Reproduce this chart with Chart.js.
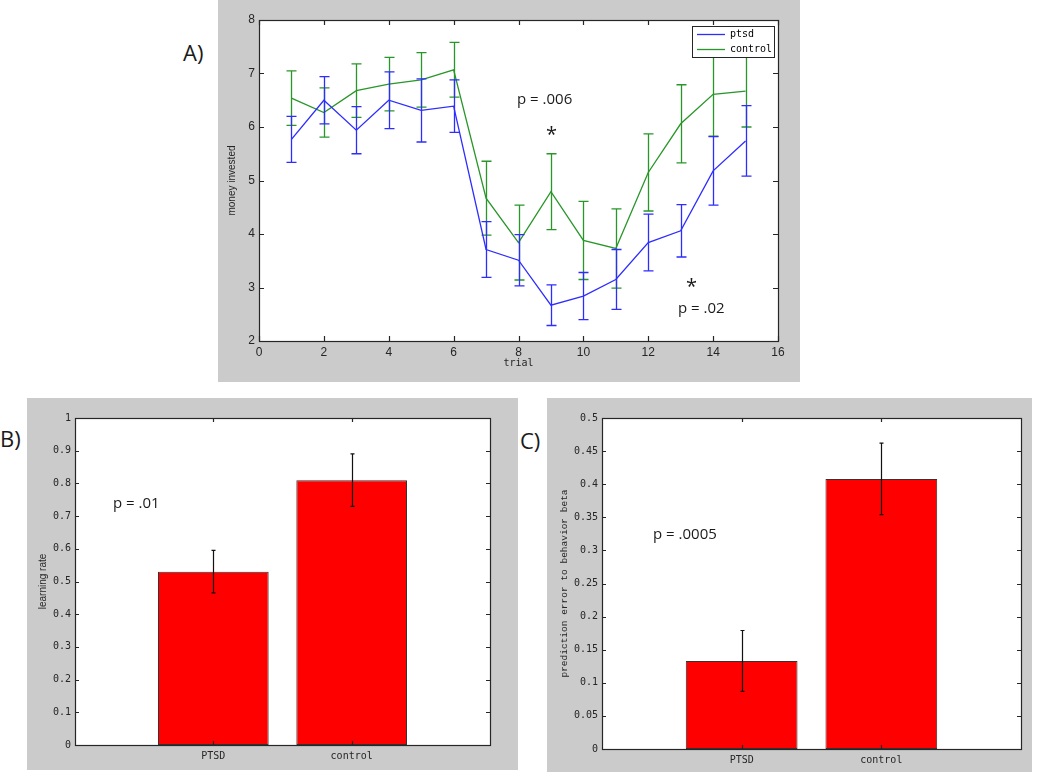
<!DOCTYPE html>
<html>
<head>
<meta charset="utf-8">
<title>Trust game: PTSD vs control</title>
<script src="https://cdn.jsdelivr.net/npm/chart.js@4.4.0/dist/chart.umd.min.js"></script>
<style>
  body { margin: 0; background: #fff; }
  #page { position: relative; width: 1050px; height: 782px; overflow: hidden; font-family: "Open Sans", sans-serif; }
  .panel { position: absolute; background: #cbcbcb; }
  .note { position: absolute; color: #1a1a1a; white-space: nowrap; line-height: 1; font-size: 15px; }
  .tag { font-size: 22px; }
  .star { font-size: 20px; }
</style>
</head>
<body>
<div id="page">
  <div class="panel" style="left:218px;top:0;width:582px;height:382px"><canvas id="trialChart"></canvas></div>
  <div class="panel" style="left:27px;top:398px;width:491px;height:372px"><canvas id="rateChart"></canvas></div>
  <div class="panel" style="left:547px;top:398px;width:485px;height:374px"><canvas id="betaChart"></canvas></div>

  <div class="note tag" style="left:183px;top:41px">A)</div>
  <div class="note tag" style="left:0;top:427px">B)</div>
  <div class="note tag" style="left:520px;top:429px">C)</div>

  <div class="note" style="left:517px;top:91px">p = .006</div>
  <div class="note star" style="left:546px;top:124px">*</div>
  <div class="note star" style="left:686px;top:276px">*</div>
  <div class="note" style="left:678px;top:300px">p = .02</div>
  <div class="note" style="left:113px;top:495px">p = .01</div>
  <div class="note" style="left:653px;top:526px">p = .0005</div>
</div>

<script>
// Panel A - money invested per trial
const trials = [1, 2, 3, 4, 5, 6, 7, 8, 9, 10, 11, 12, 13, 14, 15];
const ptsdMean = [5.77, 6.50, 5.94, 6.50, 6.31, 6.39, 3.71, 3.51, 2.67, 2.84, 3.15, 3.84, 4.06, 5.18, 5.74];
const ptsdErr = [0.43, 0.44, 0.44, 0.53, 0.59, 0.49, 0.52, 0.48, 0.38, 0.44, 0.56, 0.53, 0.49, 0.64, 0.66];
const controlMean = [6.54, 6.27, 6.68, 6.80, 6.88, 7.07, 4.67, 3.84, 4.79, 3.88, 3.73, 5.15, 6.06, 6.61, 6.67];
const controlErr = [0.51, 0.46, 0.50, 0.50, 0.51, 0.51, 0.69, 0.70, 0.71, 0.73, 0.74, 0.72, 0.73, 0.78, 0.67];
const trialTicks = [0, 2, 4, 6, 8, 10, 12, 14, 16];
const moneyTicks = [2, 3, 4, 5, 6, 7, 8];

// Panels B and C - group bars
const groups = ['PTSD', 'control'];
const groupPos = [1, 2];
const learningRate = [0.53, 0.81];
const learningRateErr = [0.065, 0.08];
const peBeta = [0.133, 0.408];
const peBetaErr = [0.046, 0.054];
const rateTicks = [0, 0.1, 0.2, 0.3, 0.4, 0.5, 0.6, 0.7, 0.8, 0.9, 1];
const betaTicks = [0, 0.05, 0.1, 0.15, 0.2, 0.25, 0.3, 0.35, 0.4, 0.45, 0.5];

const BLUE = 'rgb(45,45,255)';
const GREEN = 'rgb(40,150,40)';
const INK = '#262626';

Chart.defaults.animation = false;
Chart.defaults.plugins.legend.display = false;
Chart.defaults.plugins.tooltip.enabled = false;
Chart.defaults.color = INK;

// MATLAB style axes: white plot area, box with inward ticks on all four sides
const matlabFrame = {
  id: 'matlabFrame',
  beforeDatasetsDraw(chart) {
    const { ctx, chartArea: a } = chart;
    ctx.save();
    ctx.fillStyle = '#fff';
    ctx.fillRect(a.left, a.top, a.width, a.height);
    ctx.restore();
  },
  afterDatasetsDraw(chart, args, opts) {
    const { ctx, chartArea: a, scales: { x, y } } = chart;
    const len = opts.tickLen || 5;
    ctx.save();
    ctx.strokeStyle = INK;
    ctx.lineWidth = 1.2;
    ctx.beginPath();
    x.ticks.forEach(t => {
      const px = Math.round(x.getPixelForValue(t.value)) + 0.5;
      ctx.moveTo(px, a.bottom); ctx.lineTo(px, a.bottom - len);
      ctx.moveTo(px, a.top); ctx.lineTo(px, a.top + len);
    });
    y.ticks.forEach(t => {
      const py = Math.round(y.getPixelForValue(t.value)) + 0.5;
      ctx.moveTo(a.left, py); ctx.lineTo(a.left + len, py);
      ctx.moveTo(a.right, py); ctx.lineTo(a.right - len, py);
    });
    ctx.stroke();
    ctx.strokeRect(Math.round(a.left) + 0.5, Math.round(a.top) + 0.5, Math.round(a.width), Math.round(a.height));
    ctx.restore();
  }
};

// vertical error bars, read from dataset.errors
const errorBars = {
  id: 'errorBars',
  afterDatasetDraw(chart, args) {
    const ds = chart.data.datasets[args.index];
    if (!ds.errors) return;
    const { ctx } = chart;
    const y = chart.scales.y;
    const cap = ds.capHalf || 4;
    ctx.save();
    ctx.strokeStyle = ds.errorColor || ds.borderColor;
    ctx.lineWidth = ds.errorWidth || 1.3;
    ctx.beginPath();
    args.meta.data.forEach((el, i) => {
      const v = args.meta.controller.getParsed(i).y;
      const e = ds.errors[i];
      const px = Math.round(el.x) + 0.5;
      const top = y.getPixelForValue(v + e);
      const bot = y.getPixelForValue(v - e);
      ctx.moveTo(px, top); ctx.lineTo(px, bot);
      ctx.moveTo(px - cap, top); ctx.lineTo(px + cap, top);
      ctx.moveTo(px - cap, bot); ctx.lineTo(px + cap, bot);
    });
    ctx.stroke();
    ctx.restore();
  }
};

// boxed legend inside the top right corner (panel A)
const cornerLegend = {
  id: 'cornerLegend',
  afterDraw(chart) {
    const { ctx, chartArea: a } = chart;
    const w = 82, h = 31;
    const bx = a.right - 4 - w, by = a.top + 6;
    ctx.save();
    ctx.fillStyle = '#fff';
    ctx.fillRect(bx, by, w, h);
    ctx.strokeStyle = INK;
    ctx.lineWidth = 1;
    ctx.strokeRect(bx + 0.5, by + 0.5, w, h);
    ctx.font = '10px "DejaVu Sans Mono"';
    ctx.textBaseline = 'middle';
    chart.data.datasets.forEach((ds, i) => {
      const ry = by + 8 + i * 15;
      ctx.strokeStyle = ds.borderColor;
      ctx.lineWidth = 1.3;
      ctx.beginPath();
      ctx.moveTo(bx + 5, ry + 0.5); ctx.lineTo(bx + 33, ry + 0.5);
      ctx.stroke();
      ctx.fillStyle = '#000';
      ctx.fillText(ds.label, bx + 38, ry);
    });
    ctx.restore();
  }
};

function fixedTicks(list) {
  return scale => { scale.ticks = list.map(v => ({ value: v })); };
}

// Panel A
new Chart(document.getElementById('trialChart'), {
  type: 'line',
  data: {
    datasets: [
      { label: 'ptsd', data: trials.map((t, i) => ({ x: t, y: ptsdMean[i] })), errors: ptsdErr,
        borderColor: BLUE, borderWidth: 1.3, pointRadius: 0, tension: 0, fill: false, capHalf: 5 },
      { label: 'control', data: trials.map((t, i) => ({ x: t, y: controlMean[i] })), errors: controlErr,
        borderColor: GREEN, borderWidth: 1.3, pointRadius: 0, tension: 0, fill: false, capHalf: 5 }
    ]
  },
  options: {
    responsive: true,
    maintainAspectRatio: false,
    layout: { padding: { top: 20, right: 22, left: 0, bottom: 0 } },
    scales: {
      x: {
        type: 'linear', min: 0, max: 16,
        afterBuildTicks: fixedTicks(trialTicks),
        afterFit: s => { s.height = 41; },
        grid: { display: false, drawTicks: false },
        border: { display: false },
        ticks: { padding: 4, maxRotation: 0, font: { family: 'Liberation Sans', size: 12 }, color: INK },
        title: { display: true, text: 'trial', font: { family: 'DejaVu Sans Mono', size: 10 }, padding: { top: 0, bottom: 13 }, color: INK }
      },
      y: {
        min: 2, max: 8,
        afterBuildTicks: fixedTicks(moneyTicks),
        afterFit: s => { s.width = 41; },
        grid: { display: false, drawTicks: false },
        border: { display: false },
        ticks: { padding: 4, font: { family: 'Liberation Sans', size: 12 }, color: INK },
        title: { display: true, text: 'money invested', font: { family: 'Liberation Sans', size: 10 }, padding: { top: 8, bottom: 0 }, color: INK }
      }
    },
    plugins: { matlabFrame: { tickLen: 5 } }
  },
  plugins: [errorBars, matlabFrame, cornerLegend]
});

// Panels B and C share one layout
function groupBarChart(id, values, errs, yTicks, yTitle, dims) {
  return new Chart(document.getElementById(id), {
    type: 'bar',
    data: {
      datasets: [{
        data: groupPos.map((p, i) => ({ x: p, y: values[i] })),
        errors: errs,
        backgroundColor: '#ff0000',
        borderColor: '#333',
        borderWidth: 1,
        borderSkipped: false,
        barPercentage: 0.8,
        categoryPercentage: 1,
        errorColor: '#111',
        errorWidth: 1.2,
        capHalf: 2
      }]
    },
    options: {
      responsive: true,
      maintainAspectRatio: false,
      layout: { padding: { top: 20, right: dims.right, left: 0, bottom: 0 } },
      scales: {
        x: {
          type: 'linear', min: 0, max: 3, offset: false,
          afterBuildTicks: fixedTicks(groupPos),
          afterFit: s => { s.height = dims.bottom; },
          grid: { display: false, drawTicks: false },
          border: { display: false },
          ticks: { padding: 5, maxRotation: 0, font: { family: 'DejaVu Sans Mono', size: 10 }, color: INK,
                   callback: v => groups[groupPos.indexOf(v)] }
        },
        y: {
          min: yTicks[0], max: yTicks[yTicks.length - 1],
          afterBuildTicks: fixedTicks(yTicks),
          afterFit: s => { s.width = dims.left; },
          grid: { display: false, drawTicks: false },
          border: { display: false },
          ticks: { padding: 4, font: { family: 'DejaVu Sans Mono', size: 10 }, color: INK, callback: v => String(v) },
          title: { display: true, text: yTitle, font: dims.titleFont, padding: { top: dims.titlePad, bottom: 0 }, color: INK }
        }
      },
      plugins: { matlabFrame: { tickLen: 4 } }
    },
    plugins: [errorBars, matlabFrame]
  });
}

groupBarChart('rateChart', learningRate, learningRateErr, rateTicks, 'learning rate',
  { left: 48, right: 28, bottom: 25, titlePad: 10, titleFont: { family: 'Liberation Sans', size: 10 } });

groupBarChart('betaChart', peBeta, peBetaErr, betaTicks, 'prediction error to behavior beta',
  { left: 55, right: 11, bottom: 23, titlePad: 12, titleFont: { family: 'Liberation Mono', size: 9.5 } });
</script>
</body>
</html>
